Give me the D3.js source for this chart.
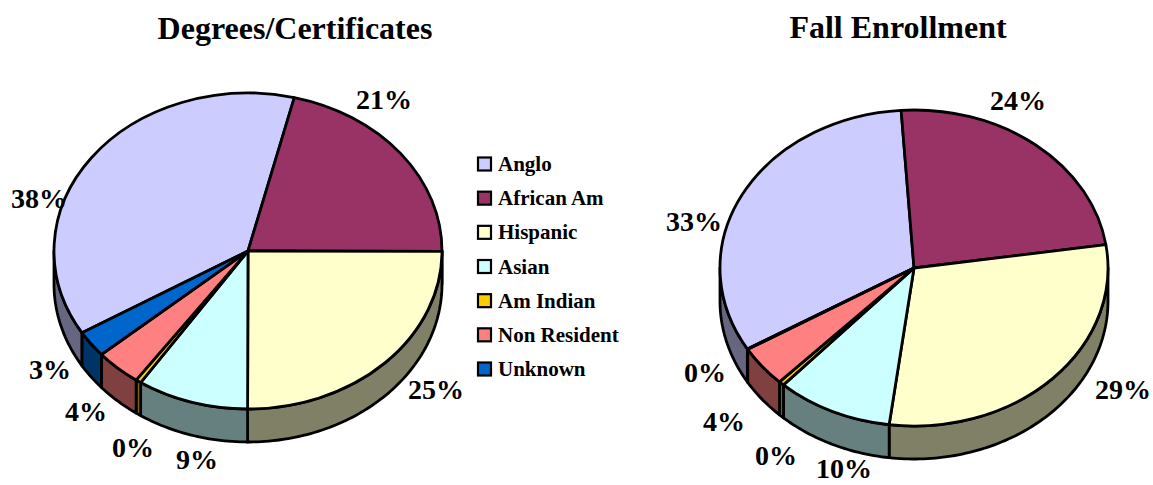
<!DOCTYPE html>
<html>
<head>
<meta charset="utf-8">
<script src="https://cdn.jsdelivr.net/npm/d3@7"></script>
<style>
    html, body { margin: 0; padding: 0; background: white; overflow: hidden; }
    text { font-family: "Liberation Serif", serif; font-weight: bold; fill: black; }
</style>
</head>
<body>
<div id="chart"></div>
<script>
// values (percent)
const categories = ["Anglo", "African Am", "Hispanic", "Asian", "Am Indian", "Non Resident", "Unknown"];
const degreeValues = [37.5, 21.2, 25.0, 9.3, 0.45, 3.85, 2.7];
const enrollValues = [32.5, 23.7, 29.4, 9.7, 0.45, 4.2, 0.05];

const topColors = ["#CCCCFF", "#993366", "#FFFFCC", "#CCFFFF", "#FFCC00", "#FF8080", "#0066CC"];
const wallColors = ["#666680", "#4D1A33", "#808066", "#668080", "#806600", "#804040", "#003366"];

const width = 1153;
const height = 485;

const svg = d3.select("#chart")
    .append("svg")
    .attr("width", width)
    .attr("height", height);

drawPie({
    title: "Degrees/Certificates", titleX: 295, titleY: 39,
    values: degreeValues, startDeg: -121.2,
    cx: 248, cy: 251,
    labelPos: [[39, 208], [384, 109], [436, 399], [197, 469], [133, 457], [86, 421], [50, 379]]
});

drawPie({
    title: "Fall Enrollment", titleX: 898, titleY: 38,
    values: enrollValues, startDeg: -120.8,
    cx: 914, cy: 268,
    labelPos: [[694, 231], [1018, 110], [1123, 399], [844, 478], [776, 465], [724, 431], [705, 382]]
});

drawLegend();

function drawPie(cfg) {
    const rx = 194;
    const ry = 158;
    const depth = 33;
    const start = cfg.startDeg * Math.PI / 180;

    const slices = d3.pie()
        .sort(null)
        .startAngle(start)
        .endAngle(start + 2 * Math.PI)(cfg.values);

    const g = svg.append("g");

    // side wall, only the part of the rim facing the viewer
    const rim = a => [cfg.cx + rx * Math.sin(a), cfg.cy - ry * Math.cos(a)];
    const line = d3.line();
    const front0 = Math.PI / 2;
    const front1 = 3 * Math.PI / 2;

    slices.forEach(d => {
        // bring angles into 0..2PI so they can be compared with the front half
        const shift = d.startAngle < 0 ? 2 * Math.PI : 0;
        const a0 = Math.max(d.startAngle + shift, front0);
        const a1 = Math.min(d.endAngle + shift, front1);
        if (a1 <= a0) return;

        const steps = d3.range(a0, a1, 0.02).concat([a1]);
        const upper = steps.map(rim);
        const lower = upper.map(p => [p[0], p[1] + depth]).reverse();

        g.append("path")
            .attr("d", line(upper.concat(lower)) + "Z")
            .attr("fill", wallColors[d.index])
            .attr("stroke", "black")
            .attr("stroke-width", 2.8)
            .attr("stroke-linejoin", "round");
    });

    // top face
    const arc = d3.arc().innerRadius(0).outerRadius(rx);

    g.append("g")
        .attr("transform", `translate(${cfg.cx},${cfg.cy}) scale(1,${ry / rx})`)
        .selectAll("path")
        .data(slices)
        .enter()
        .append("path")
        .attr("d", arc)
        .attr("fill", d => topColors[d.index])
        .attr("stroke", "black")
        .attr("stroke-width", 2.8)
        .attr("stroke-linejoin", "round")
        .attr("vector-effect", "non-scaling-stroke");

    g.selectAll("text.pct")
        .data(slices)
        .enter()
        .append("text")
        .attr("class", "pct")
        .attr("x", d => cfg.labelPos[d.index][0])
        .attr("y", d => cfg.labelPos[d.index][1])
        .attr("text-anchor", "middle")
        .attr("font-size", 28)
        .text(d => Math.round(d.value) + "%");

    svg.append("text")
        .attr("x", cfg.titleX)
        .attr("y", cfg.titleY)
        .attr("text-anchor", "middle")
        .attr("font-size", 32)
        .text(cfg.title);
}

function drawLegend() {
    const y = d3.scalePoint()
        .domain(categories)
        .range([164, 369]);

    const legend = svg.append("g");

    legend.selectAll("rect")
        .data(categories)
        .enter()
        .append("rect")
        .attr("x", 478)
        .attr("y", d => y(d) - 6.5)
        .attr("width", 13)
        .attr("height", 13)
        .attr("fill", (d, i) => topColors[i])
        .attr("stroke", "black")
        .attr("stroke-width", 2.2);

    legend.selectAll("text")
        .data(categories)
        .enter()
        .append("text")
        .attr("x", 498)
        .attr("y", d => y(d) + 7)
        .attr("font-size", 21)
        .text(d => d);
}
</script>
</body>
</html>
